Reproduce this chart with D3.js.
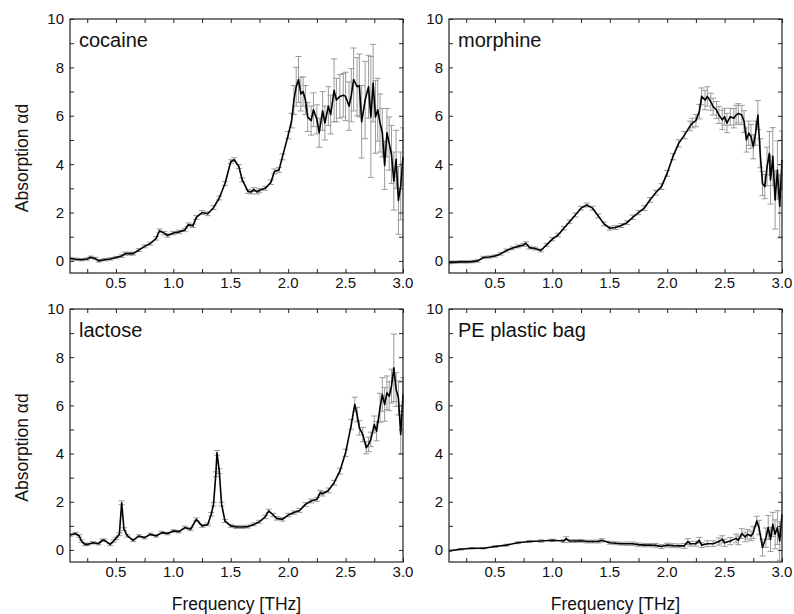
<!DOCTYPE html>
<html><head><meta charset="utf-8">
<script src="https://cdn.jsdelivr.net/npm/d3@7"></script>
<style>body{margin:0;background:#fff} svg{display:block} text{font-family:"Liberation Sans",Arial,Helvetica,sans-serif;fill:#111}</style>
</head><body><svg id="c" width="794" height="614"></svg>
<script>
const panelNames = ["cocaine", "morphine", "lactose", "PE plastic bag"];
const xTickValues = [0.5, 1.0, 1.5, 2.0, 2.5, 3.0];
const xMinorTicks = [0.25, 0.5, 0.75, 1.0, 1.25, 1.5, 1.75, 2.0, 2.25, 2.5, 2.75, 3.0];
const yTickValues = [0, 2, 4, 6, 8, 10];
const yMinorTicks = [0, 1, 2, 3, 4, 5, 6, 7, 8, 9, 10];
const xLabel = "Frequency [THz]";
const yLabel = "Absorption αd";

// [frequency THz, absorption αd, error]
const cocaine = [
[0.10,0.10,0.05],[0.15,0.07,0.05],[0.20,0.05,0.05],[0.25,0.08,0.05],[0.28,0.15,0.05],[0.32,0.10,0.05],[0.35,0.00,0.05],
[0.40,0.05,0.05],[0.45,0.08,0.05],[0.50,0.14,0.05],[0.55,0.20,0.06],[0.58,0.30,0.06],[0.62,0.30,0.06],[0.65,0.30,0.06],
[0.70,0.45,0.06],[0.75,0.60,0.06],[0.80,0.72,0.06],[0.85,0.93,0.07],[0.88,1.25,0.07],[0.92,1.15,0.07],[0.95,1.05,0.07],
[1.00,1.15,0.07],[1.05,1.20,0.07],[1.10,1.28,0.07],[1.13,1.50,0.07],[1.17,1.45,0.07],[1.20,1.80,0.08],[1.25,2.00,0.08],
[1.30,1.95,0.08],[1.35,2.20,0.08],[1.40,2.60,0.08],[1.45,3.20,0.08],[1.50,4.10,0.08],[1.53,4.18,0.08],[1.57,3.90,0.08],
[1.60,3.35,0.08],[1.65,2.87,0.08],[1.68,2.85,0.08],[1.70,2.95,0.08],[1.73,2.85,0.08],[1.75,2.92,0.08],[1.80,3.00,0.08],
[1.85,3.25,0.09],[1.88,3.70,0.1],[1.92,3.76,0.1],[1.95,4.30,0.12],[2.00,5.20,0.15],[2.03,5.80,0.3],[2.05,6.65,0.6],
[2.07,7.20,0.8],[2.09,7.50,0.95],[2.11,6.90,0.7],[2.13,7.00,0.6],[2.15,6.65,0.6],[2.17,5.95,0.6],[2.20,5.80,0.6],
[2.22,6.25,0.7],[2.25,5.85,0.6],[2.27,5.30,0.6],[2.30,6.20,0.8],[2.32,5.70,0.7],[2.35,6.40,0.8],[2.37,6.05,0.8],
[2.40,7.05,1.3],[2.42,6.65,0.9],[2.45,6.80,0.9],[2.48,6.85,0.9],[2.50,6.80,1.0],[2.53,6.40,1.0],[2.55,6.85,1.1],
[2.57,7.50,1.3],[2.60,7.20,1.2],[2.62,7.25,1.3],[2.64,5.75,1.5],[2.67,6.65,1.6],[2.70,7.20,1.3],[2.72,5.95,2.5],
[2.74,7.35,1.6],[2.76,5.95,1.5],[2.78,6.25,1.3],[2.80,5.70,1.2],[2.82,5.30,1.0],[2.84,3.95,1.0],[2.86,5.30,1.0],
[2.88,4.85,1.1],[2.90,4.40,1.2],[2.92,3.30,1.2],[2.94,4.20,1.2],[2.96,2.50,1.4],[2.98,3.10,1.4],[3.00,4.30,1.2]
];
const morphine = [
[0.10,-0.07,0.05],[0.15,-0.05,0.05],[0.20,-0.04,0.05],[0.25,-0.04,0.05],[0.30,-0.03,0.05],[0.35,0.00,0.05],[0.40,0.14,0.05],
[0.45,0.16,0.05],[0.50,0.20,0.05],[0.55,0.29,0.05],[0.60,0.43,0.06],[0.65,0.52,0.06],[0.70,0.60,0.06],[0.75,0.66,0.06],
[0.77,0.73,0.06],[0.80,0.55,0.06],[0.85,0.51,0.06],[0.90,0.43,0.06],[0.95,0.66,0.06],[1.00,0.90,0.07],[1.05,1.07,0.07],
[1.10,1.35,0.07],[1.15,1.62,0.07],[1.20,1.90,0.08],[1.25,2.18,0.08],[1.30,2.31,0.08],[1.35,2.18,0.08],[1.40,1.86,0.08],
[1.45,1.53,0.08],[1.50,1.35,0.08],[1.55,1.38,0.08],[1.60,1.46,0.08],[1.65,1.58,0.08],[1.70,1.80,0.09],[1.75,2.00,0.09],
[1.80,2.18,0.1],[1.85,2.52,0.1],[1.90,2.82,0.1],[1.95,3.07,0.12],[2.00,3.62,0.12],[2.05,4.31,0.13],[2.10,4.86,0.15],
[2.15,5.20,0.15],[2.20,5.58,0.2],[2.22,5.70,0.2],[2.25,5.80,0.25],[2.28,6.17,0.3],[2.30,6.80,0.35],[2.33,6.65,0.4],
[2.35,6.80,0.4],[2.38,6.58,0.35],[2.40,6.38,0.35],[2.43,6.24,0.35],[2.45,6.03,0.35],[2.48,5.83,0.4],[2.50,5.96,0.35],
[2.52,5.70,0.4],[2.55,5.96,0.35],[2.58,5.90,0.4],[2.60,6.03,0.4],[2.62,6.10,0.4],[2.65,6.03,0.4],[2.67,5.76,0.45],
[2.69,5.00,0.5],[2.71,5.28,0.5],[2.73,5.14,0.5],[2.75,4.72,0.5],[2.77,5.28,0.5],[2.79,6.03,0.6],[2.81,4.45,0.6],
[2.83,3.20,0.5],[2.85,3.07,0.5],[2.87,3.90,0.8],[2.89,4.45,0.9],[2.90,3.35,1.0],[2.92,4.31,1.2],[2.94,2.52,1.2],
[2.96,3.76,1.2],[2.98,2.25,1.3],[3.00,4.17,1.2]
];
const lactose = [
[0.10,0.62,0.05],[0.15,0.68,0.05],[0.18,0.58,0.05],[0.20,0.37,0.05],[0.23,0.23,0.05],[0.25,0.23,0.05],[0.30,0.30,0.05],
[0.35,0.26,0.05],[0.38,0.40,0.05],[0.40,0.40,0.05],[0.45,0.23,0.05],[0.48,0.37,0.05],[0.50,0.48,0.05],[0.53,0.65,0.06],
[0.55,1.96,0.08],[0.57,0.86,0.06],[0.60,0.58,0.05],[0.65,0.40,0.05],[0.70,0.58,0.05],[0.75,0.51,0.05],[0.80,0.65,0.05],
[0.85,0.58,0.05],[0.90,0.72,0.05],[0.95,0.68,0.05],[1.00,0.79,0.05],[1.05,0.76,0.05],[1.10,0.93,0.06],[1.15,0.86,0.06],
[1.20,1.27,0.06],[1.25,1.00,0.06],[1.30,1.06,0.06],[1.33,1.48,0.07],[1.35,1.90,0.08],[1.37,3.14,0.1],[1.38,4.03,0.1],
[1.40,3.27,0.1],[1.42,1.90,0.08],[1.45,1.20,0.06],[1.50,1.00,0.06],[1.55,0.95,0.06],[1.60,0.95,0.06],[1.65,0.97,0.06],
[1.70,1.06,0.06],[1.75,1.17,0.06],[1.80,1.37,0.07],[1.83,1.62,0.07],[1.87,1.45,0.07],[1.90,1.31,0.07],[1.95,1.27,0.07],
[2.00,1.45,0.07],[2.05,1.55,0.07],[2.10,1.64,0.08],[2.15,1.89,0.08],[2.20,2.03,0.08],[2.25,2.10,0.08],[2.28,2.38,0.09],
[2.30,2.33,0.09],[2.35,2.47,0.1],[2.40,2.79,0.1],[2.45,3.27,0.12],[2.50,4.03,0.15],[2.55,5.21,0.2],[2.58,6.04,0.3],
[2.60,5.62,0.3],[2.62,5.07,0.3],[2.65,4.79,0.3],[2.68,4.24,0.25],[2.70,4.38,0.3],[2.72,4.59,0.3],[2.75,5.21,0.35],
[2.77,4.93,0.4],[2.80,5.90,0.6],[2.82,6.45,0.7],[2.84,6.04,0.7],[2.86,6.52,0.7],[2.88,6.38,0.6],[2.90,6.80,0.7],
[2.92,7.56,1.4],[2.94,6.66,0.7],[2.96,6.31,0.7],[2.98,4.79,0.8],[3.00,6.45,0.7]
];
const pebag = [
[0.10,-0.04,0.03],[0.20,0.03,0.03],[0.30,0.07,0.03],[0.40,0.07,0.03],[0.50,0.14,0.04],[0.60,0.20,0.04],[0.70,0.30,0.04],
[0.80,0.35,0.04],[0.90,0.37,0.05],[1.00,0.40,0.05],[1.10,0.37,0.06],[1.12,0.47,0.08],[1.15,0.37,0.06],[1.20,0.37,0.06],
[1.25,0.38,0.06],[1.30,0.35,0.06],[1.35,0.35,0.06],[1.40,0.35,0.06],[1.43,0.40,0.07],[1.50,0.30,0.06],[1.55,0.28,0.06],
[1.60,0.26,0.06],[1.65,0.26,0.07],[1.70,0.26,0.07],[1.75,0.22,0.07],[1.80,0.20,0.07],[1.85,0.20,0.07],[1.90,0.19,0.08],
[1.95,0.14,0.08],[2.00,0.20,0.08],[2.05,0.18,0.08],[2.10,0.17,0.08],[2.15,0.17,0.1],[2.18,0.35,0.12],[2.20,0.26,0.1],
[2.25,0.26,0.1],[2.28,0.40,0.12],[2.30,0.20,0.1],[2.35,0.26,0.12],[2.40,0.26,0.12],[2.45,0.35,0.15],[2.48,0.44,0.15],
[2.50,0.30,0.15],[2.55,0.37,0.15],[2.60,0.48,0.18],[2.62,0.40,0.18],[2.65,0.68,0.2],[2.68,0.54,0.2],[2.70,0.65,0.2],
[2.73,0.58,0.2],[2.75,0.72,0.25],[2.78,1.20,0.2],[2.80,0.93,0.3],[2.83,0.10,0.35],[2.86,0.51,0.4],[2.88,0.93,0.5],
[2.90,0.44,0.5],[2.92,1.06,0.5],[2.94,0.65,0.6],[2.96,0.93,0.7],[2.98,0.37,0.8],[3.00,1.48,0.9]
];
const seriesList = [cocaine, morphine, lactose, pebag];

const panels = [
  {x0: 70, x1: 403, y0: 19, y1: 273, yTitle: true, xTitle: false},
  {x0: 449, x1: 782, y0: 19, y1: 273, yTitle: false, xTitle: false},
  {x0: 70, x1: 403, y0: 309, y1: 562, yTitle: true, xTitle: true},
  {x0: 449, x1: 782, y0: 309, y1: 562, yTitle: false, xTitle: true}
];

const svg = d3.select("#c");
const frameColor = "#222";

panels.forEach((p, i) => {
  const data = seriesList[i];
  const x = d3.scaleLinear().domain([0.1, 3.0]).range([p.x0, p.x1]);
  const y = d3.scaleLinear().domain([-0.5, 10]).range([p.y1, p.y0]);
  const g = svg.append("g");
  const clipId = "clip" + i;
  svg.append("clipPath").attr("id", clipId).append("rect")
    .attr("x", p.x0).attr("y", p.y0 - 2).attr("width", p.x1 - p.x0 + 1).attr("height", p.y1 - p.y0 + 2);
  const plot = g.append("g").attr("clip-path", `url(#${clipId})`);

  // error bars
  const eb = plot.append("g").attr("stroke", "#9a9a9a").attr("stroke-width", 1).attr("fill", "none");
  const cap = 3;
  data.forEach(d => {
    const cx = x(d[0]), top = y(d[1] + d[2]), bot = y(d[1] - d[2]);
    eb.append("line").attr("x1", cx).attr("x2", cx).attr("y1", top).attr("y2", bot);
    eb.append("line").attr("x1", cx - cap).attr("x2", cx + cap).attr("y1", top).attr("y2", top);
    eb.append("line").attr("x1", cx - cap).attr("x2", cx + cap).attr("y1", bot).attr("y2", bot);
  });

  // line
  plot.append("path").datum(data)
    .attr("d", d3.line().x(d => x(d[0])).y(d => y(d[1])))
    .attr("fill", "none").attr("stroke", "#000").attr("stroke-width", 1.6).attr("stroke-linejoin", "round");

  // axes with inward ticks on all sides
  const tl = 4;
  const axB = d3.axisBottom(x).tickValues(xMinorTicks).tickSize(-tl).tickFormat("");
  const axT = d3.axisTop(x).tickValues(xMinorTicks).tickSize(-tl).tickFormat("");
  const axL = d3.axisLeft(y).tickValues(yMinorTicks).tickSize(-tl).tickFormat("");
  const axR = d3.axisRight(y).tickValues(yMinorTicks).tickSize(-tl).tickFormat("");
  [[axB, `translate(0,${p.y1})`], [axT, `translate(0,${p.y0})`], [axL, `translate(${p.x0},0)`], [axR, `translate(${p.x1},0)`]]
    .forEach(([ax, tr]) => {
      const a = g.append("g").attr("transform", tr).call(ax);
      a.select(".domain").remove();
      a.selectAll("line").attr("stroke", frameColor).attr("stroke-width", 1);
    });
  g.append("rect").attr("x", p.x0).attr("y", p.y0).attr("width", p.x1 - p.x0).attr("height", p.y1 - p.y0)
    .attr("fill", "none").attr("stroke", frameColor).attr("stroke-width", 1.2);

  // tick labels
  g.selectAll(".xl").data(xTickValues).enter().append("text")
    .attr("x", d => x(d)).attr("y", p.y1 + 15).attr("text-anchor", "middle")
    .attr("font-size", 15).text(d => d.toFixed(1));
  g.selectAll(".yl").data(yTickValues).enter().append("text")
    .attr("x", p.x0 - 6).attr("y", d => y(d)).attr("dy", "0.36em").attr("text-anchor", "end")
    .attr("font-size", 15).text(d => d);

  // panel name
  g.append("text").attr("x", p.x0 + 9).attr("y", p.y0 + 28).attr("font-size", 20).text(panelNames[i]);

  if (p.yTitle) {
    const cy = (p.y0 + p.y1) / 2 + 12;
    g.append("text").attr("transform", `translate(28,${cy}) rotate(-90)`).attr("text-anchor", "middle")
      .attr("font-size", 17.5).text(yLabel);
  }
  if (p.xTitle) {
    g.append("text").attr("x", (p.x0 + p.x1) / 2).attr("y", 610).attr("text-anchor", "middle")
      .attr("font-size", 17.5).text(xLabel);
  }
});
</script></body></html>
